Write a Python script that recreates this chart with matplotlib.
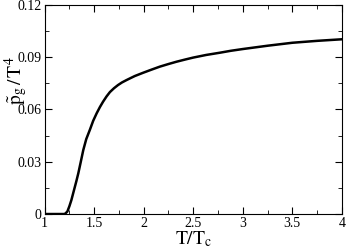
import matplotlib
matplotlib.use("Agg")
import matplotlib.pyplot as plt
from matplotlib.ticker import MultipleLocator

plt.rcParams['font.family'] = ['Liberation Serif', 'DejaVu Serif']
plt.rcParams['mathtext.fontset'] = 'stix'

# values
t_over_tc = [1.0, 1.2, 1.205, 1.23, 1.25, 1.27, 1.30, 1.32, 1.34, 1.365, 1.39, 1.42, 1.457,
             1.49, 1.525, 1.558, 1.59, 1.625, 1.659, 1.70, 1.74, 1.78, 1.827, 1.87, 1.91,
             1.995, 2.08, 2.163, 2.25, 2.33, 2.42, 2.5, 2.63, 2.77, 2.88, 3.0, 3.25, 3.5,
             3.75, 4.0]
pg_t4 = [0.0, 0.0, 0.0, 0.0015, 0.0045, 0.008, 0.0145, 0.0188, 0.0234, 0.0300, 0.0367,
         0.0430, 0.0484, 0.0535, 0.0578, 0.0614, 0.0645, 0.0675, 0.0700, 0.0722, 0.0740,
         0.0755, 0.0769, 0.0781, 0.0792, 0.0811, 0.0829, 0.0846, 0.0861, 0.0874, 0.0887,
         0.0898, 0.0913, 0.0926, 0.0937, 0.0947, 0.0966, 0.0983, 0.0994, 0.1003]

fig = plt.figure(figsize=(3.46, 2.48), dpi=100)
ax = fig.add_axes([0.129, 0.137, 0.859, 0.843])

ax.plot(t_over_tc, pg_t4, color='black', lw=1.8)

ax.set_xlim(1, 4)
ax.set_ylim(0, 0.12)
ax.set_xticks([1, 1.5, 2, 2.5, 3, 3.5, 4])
ax.set_xticklabels(['1', '1.5', '2', '2.5', '3', '3.5', '4'])
ax.set_yticks([0, 0.03, 0.06, 0.09, 0.12])
ax.set_yticklabels(['0', '0.03', '0.06', '0.09', '0.12'])
ax.xaxis.set_minor_locator(MultipleLocator(0.25))
ax.yaxis.set_minor_locator(MultipleLocator(0.015))
ax.tick_params(which='both', direction='in', top=True, right=True, labelsize=10, pad=2)
ax.tick_params(which='major', length=5)
ax.tick_params(which='minor', length=3)

ax.set_xlabel(r'$\mathrm{T/T_c}$', fontsize=14)
ax.xaxis.set_label_coords(0.5, -0.075, transform=ax.transAxes)
ax.xaxis.label.set_va('top')
ax.set_ylabel(r'$\mathrm{\tilde{p}_g\,/\,T^4}$', fontsize=14)
ax.yaxis.label.set_va('center')
ax.yaxis.set_label_coords(-0.097, 0.64)

fig.savefig('out.png', dpi=100)
